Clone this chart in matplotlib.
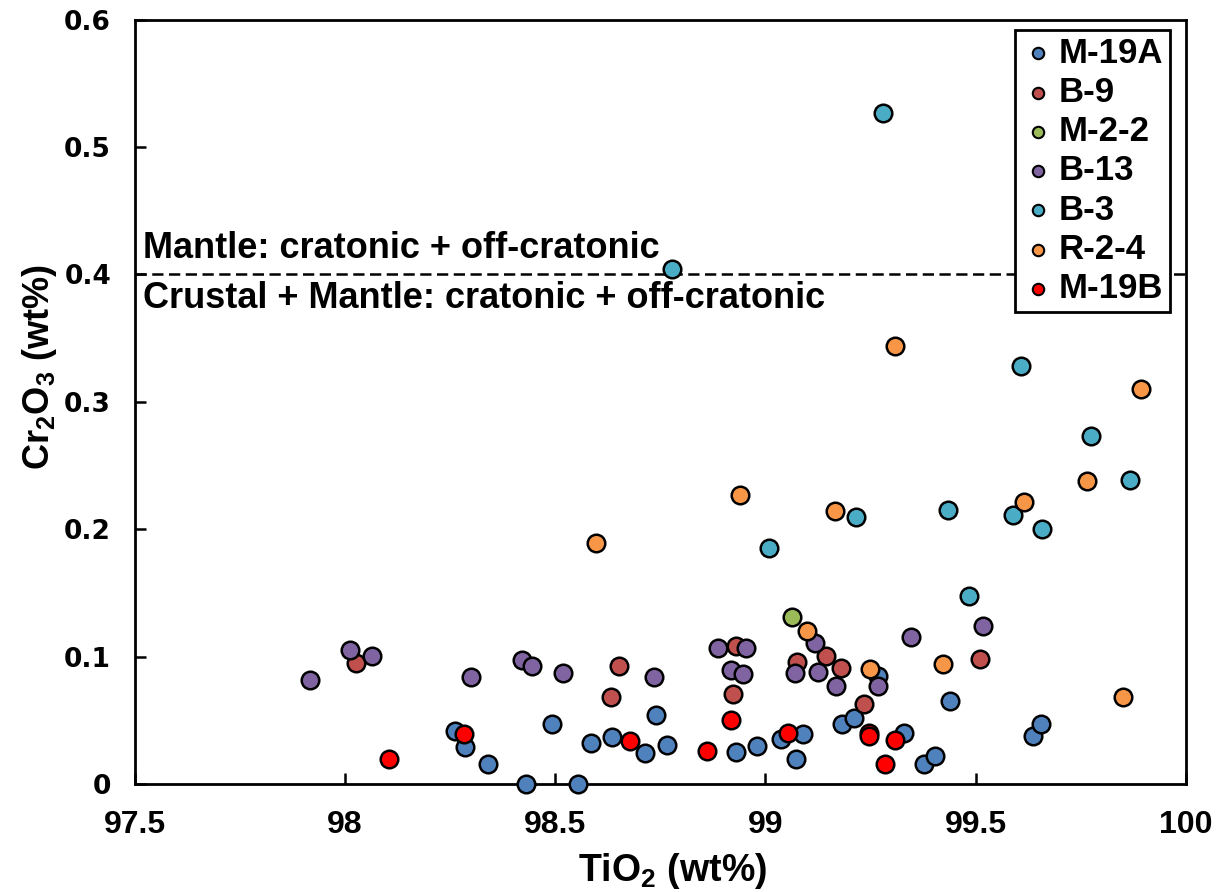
import matplotlib
matplotlib.use("Agg")
import matplotlib.pyplot as plt

plt.rcParams['font.family'] = ['Liberation Sans', 'DejaVu Sans']
plt.rcParams['font.weight'] = 'bold'
plt.rcParams['mathtext.fontset'] = 'custom'
plt.rcParams['mathtext.rm'] = 'Liberation Sans:bold'
plt.rcParams['mathtext.it'] = 'Liberation Sans:bold'
plt.rcParams['mathtext.bf'] = 'Liberation Sans:bold'
plt.rcParams['mathtext.default'] = 'rm'

# ---- data ----
m19a_x = [98.261, 98.286, 98.341, 98.430, 98.493, 98.554, 98.586, 98.635, 98.714, 98.739,
          98.765, 98.931, 98.979, 99.038, 99.090, 99.072, 99.183, 99.211, 99.267, 99.329,
          99.377, 99.403, 99.439, 99.636, 99.656]
m19a_y = [0.0416, 0.0293, 0.0155, 0.0, 0.047, 0.0, 0.0325, 0.037, 0.024, 0.054,
          0.031, 0.025, 0.030, 0.035, 0.039, 0.0196, 0.047, 0.052, 0.085, 0.040,
          0.0155, 0.022, 0.065, 0.038, 0.047]

b9_x = [98.027, 98.651, 98.632, 98.931, 98.923, 99.076, 99.144, 99.180, 99.234, 99.510]
b9_y = [0.0948, 0.093, 0.068, 0.108, 0.0705, 0.096, 0.1005, 0.091, 0.063, 0.098]

m22_x = [99.063]
m22_y = [0.131]

b13_x = [97.916, 98.013, 98.065, 98.299, 98.422, 98.445, 98.519, 98.736, 98.888, 98.953,
         98.919, 98.947, 99.070, 99.118, 99.124, 99.167, 99.268, 99.345, 99.516]
b13_y = [0.082, 0.105, 0.1008, 0.0843, 0.0974, 0.093, 0.087, 0.084, 0.107, 0.107,
         0.0896, 0.0864, 0.087, 0.111, 0.0877, 0.077, 0.077, 0.1157, 0.124]

b3_x = [99.279, 98.777, 99.608, 99.774, 99.867, 99.434, 99.215, 99.588, 99.657, 99.008, 99.484]
b3_y = [0.527, 0.404, 0.328, 0.273, 0.239, 0.215, 0.210, 0.211, 0.200, 0.185, 0.148]

r24_x = [99.308, 99.893, 99.764, 98.939, 99.615, 99.165, 98.597, 99.098, 99.248, 99.423, 99.851]
r24_y = [0.344, 0.310, 0.238, 0.227, 0.2215, 0.214, 0.189, 0.120, 0.090, 0.094, 0.0686]

m19b_x = [98.105, 98.283, 98.677, 98.861, 98.917, 99.053, 99.247, 99.246, 99.308, 99.283]
m19b_y = [0.0196, 0.039, 0.034, 0.026, 0.050, 0.040, 0.040, 0.0377, 0.0346, 0.0155]

series = [
    ("M-19A", m19a_x, m19a_y, "#4F81BD"),
    ("B-9", b9_x, b9_y, "#C0504D"),
    ("M-2-2", m22_x, m22_y, "#9BBB59"),
    ("B-13", b13_x, b13_y, "#8064A2"),
    ("B-3", b3_x, b3_y, "#4BACC6"),
    ("R-2-4", r24_x, r24_y, "#F79646"),
    ("M-19B", m19b_x, m19b_y, "#FF0000"),
]

x_ticks = [97.5, 98, 98.5, 99, 99.5, 100]
x_tick_labels = ["97.5", "98", "98.5", "99", "99.5", "100"]
y_ticks = [0, 0.1, 0.2, 0.3, 0.4, 0.5, 0.6]
y_tick_labels = ["0", "0.1", "0.2", "0.3", "0.4", "0.5", "0.6"]
boundary = 0.4

# ---- figure ----
fig = plt.figure(figsize=(12.24, 8.92), dpi=100)
ax = fig.add_axes([0.110, 0.121, 0.859, 0.857])

for i, (name, xs, ys, col) in enumerate(series):
    ax.scatter(xs, ys, s=160, c=col, edgecolors='black', linewidths=1.8,
               label=name, zorder=3 + i, clip_on=False)

ax.axhline(boundary, color='black', linestyle=(0, (4.5, 2.2)), linewidth=1.8, zorder=2)

ax.text(97.52, 0.413, "Mantle: cratonic + off-cratonic", fontsize=26, fontweight='bold',
        ha='left', va='baseline')
ax.text(97.52, 0.3945, "Crustal + Mantle: cratonic + off-cratonic", fontsize=26,
        fontweight='bold', ha='left', va='top')

ax.set_xlim(97.5, 100)
ax.set_ylim(0, 0.6)
ax.set_xticks(x_ticks)
ax.set_xticklabels(x_tick_labels, fontsize=23, fontweight='bold')
ax.set_yticks(y_ticks)
ax.set_yticklabels(y_tick_labels, fontsize=19, fontweight='bold',
                   family=['DejaVu Sans'])
ax.tick_params(direction='in', length=8, width=1.8)
ax.tick_params(axis='x', pad=19)
ax.tick_params(axis='y', pad=17)
for sp in ax.spines.values():
    sp.set_linewidth(2)

ax.set_xlabel("TiO$_2$ (wt%)", fontsize=27, fontweight='bold')
ax.xaxis.set_label_coords(0.512, -0.088)
ax.set_ylabel("Cr$_2$O$_3$ (wt%)", fontsize=26, fontweight='bold')
ax.yaxis.set_label_coords(-0.072, 0.545)

leg = ax.legend(loc='upper right', bbox_to_anchor=(0.985, 0.987),
                frameon=True, fancybox=False, edgecolor='black', framealpha=1.0,
                markerscale=0.65, handletextpad=0.15, handlelength=0.9, borderpad=0.2,
                labelspacing=0.18, borderaxespad=0.0,
                prop={'weight': 'bold', 'size': 25})
leg.get_frame().set_linewidth(2)
leg.set_zorder(20)
for h in leg.legend_handles:
    h.set_linewidth(1.5)

fig.savefig("out.png", dpi=100)
